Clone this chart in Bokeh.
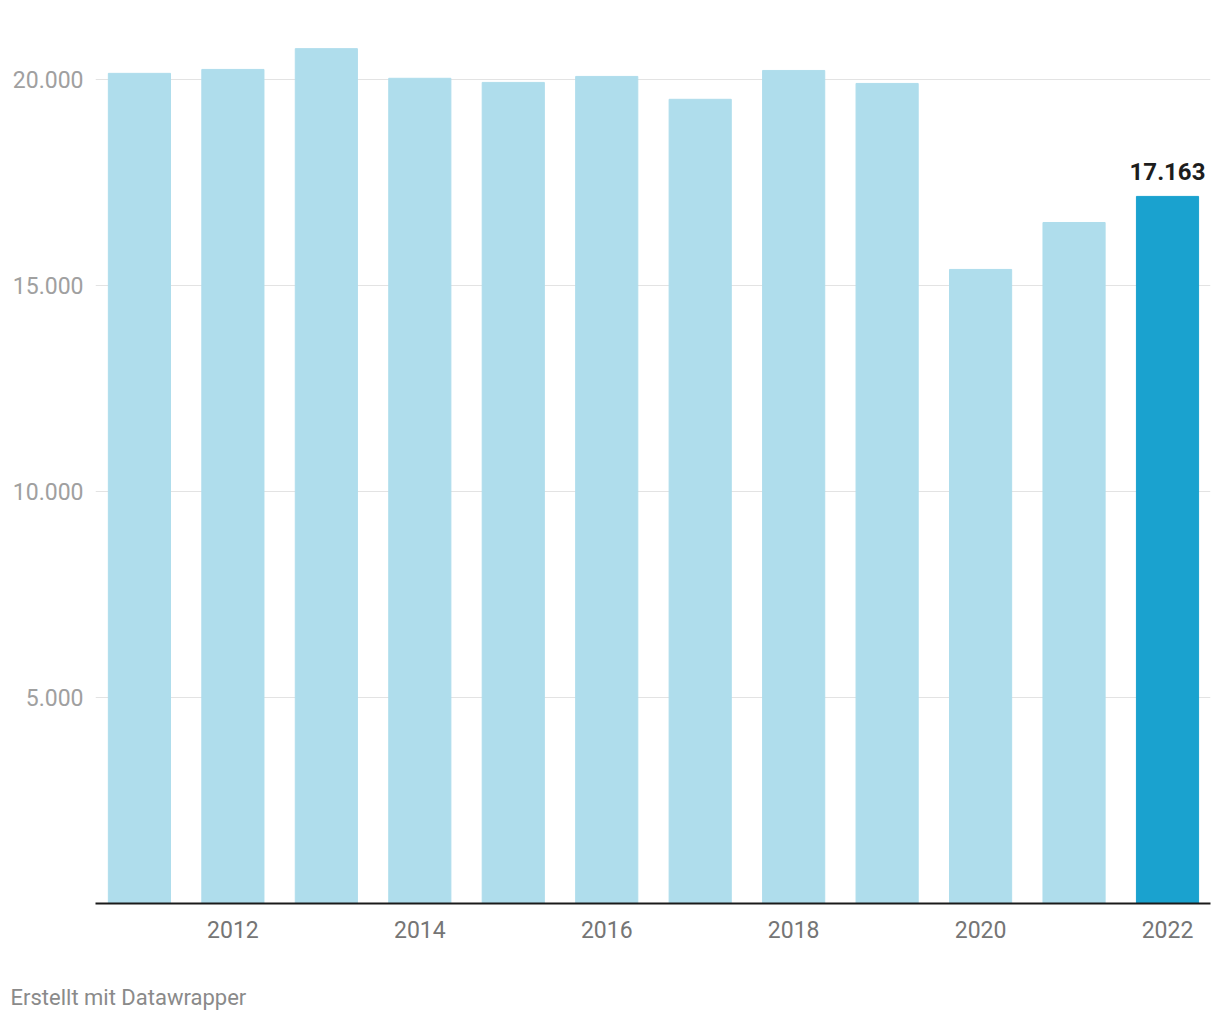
from bokeh.plotting import figure
from bokeh.models import Range1d, FixedTicker, Title, ColumnDataSource
from bokeh.core.properties import value
from bokeh.embed import file_html
from bokeh.resources import INLINE

years = [2011, 2012, 2013, 2014, 2015, 2016, 2017, 2018, 2019, 2020, 2021, 2022]
values = [20150, 20245, 20750, 20030, 19930, 20075, 19520, 20220, 19905, 15390, 16530, 17163]
y_ticks = [5000, 10000, 15000, 20000]
y_tick_labels = ["5.000", "10.000", "15.000", "20.000"]
x_ticks = [2012, 2014, 2016, 2018, 2020, 2022]
highlight_label = "17.163"
footer = "Erstellt mit Datawrapper"

LIGHT = "#afddec"
DARK = "#1aa2cf"
colors = [DARK if y == years[-1] else LIGHT for y in years]

src = ColumnDataSource(dict(x=years, top=values, color=colors))

p = figure(width=1220, height=1020, output_backend="svg", toolbar_location=None,
           x_range=Range1d(2010.53, 2022.46), y_range=Range1d(0, 21190),
           min_border_left=95, min_border_right=10, min_border_top=30,
           min_border_bottom=0)
p.outline_line_color = None
p.background_fill_color = "white"
p.border_fill_color = "white"

p.vbar(x="x", top="top", width=0.665, bottom=0, color="color", source=src)

# y axis
p.yaxis.ticker = FixedTicker(ticks=y_ticks)
p.yaxis.major_label_overrides = dict(zip(y_ticks, y_tick_labels))
p.yaxis.axis_line_color = None
p.yaxis.major_tick_line_color = None
p.yaxis.major_tick_out = 0
p.yaxis.major_tick_in = 0
p.yaxis.minor_tick_line_color = None
p.yaxis.major_label_text_font = "Roboto"
p.yaxis.major_label_text_font_size = "23px"
p.yaxis.major_label_text_color = "#a0a0a0"
p.yaxis.major_label_standoff = 12

p.ygrid.ticker = FixedTicker(ticks=y_ticks)
p.ygrid.grid_line_color = "#e3e3e3"
p.ygrid.grid_line_width = 1
p.xgrid.grid_line_color = None

# x axis
p.xaxis.ticker = FixedTicker(ticks=x_ticks)
p.xaxis.major_label_overrides = {t: str(t) for t in x_ticks}
p.xaxis.axis_line_color = "#1a1a1a"
p.xaxis.axis_line_width = 2
p.xaxis.major_tick_line_color = None
p.xaxis.major_tick_out = 0
p.xaxis.major_tick_in = 0
p.xaxis.minor_tick_line_color = None
p.xaxis.major_label_text_font = "Roboto"
p.xaxis.major_label_text_font_size = "23px"
p.xaxis.major_label_text_color = "#757575"
p.xaxis.major_label_standoff = 17
p.xaxis.axis_label = " "
p.xaxis.axis_label_text_font_size = "10px"
p.xaxis.axis_label_standoff = 17

# highlight label
p.text(x=[years[-1]], y=[values[-1]], text=[highlight_label], text_font=value("Roboto"),
       text_font_size="24px", text_font_style="bold", text_color="#1d1d1d",
       text_align="center", text_baseline="middle", y_offset=-25)

p.add_layout(Title(text=footer, align="left", offset=-85, standoff=22,
                   text_font="Roboto", text_font_size="22px", text_color="#8a8a8a",
                   text_font_style="normal", vertical_align="bottom"), "below")

open("out.html", "w").write(file_html(p, INLINE))
